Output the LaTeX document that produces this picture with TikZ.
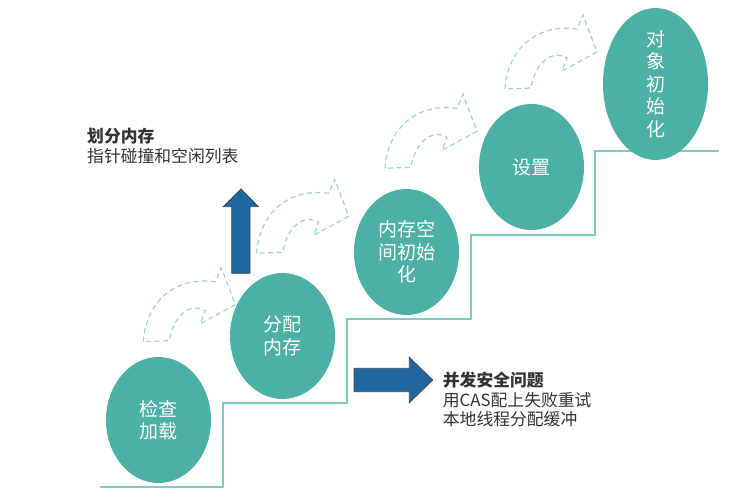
\documentclass[tikz,border=0pt]{standalone}
\usepackage{fontspec}
\setmainfont{Noto Sans CJK SC}
\usetikzlibrary{shapes.geometric}
\definecolor{stepteal}{RGB}{127,203,193}
\definecolor{ovalteal}{RGB}{77,176,164}
\definecolor{dashteal}{RGB}{158,213,206}
\definecolor{blockblue}{RGB}{31,103,160}
\definecolor{blockedge}{RGB}{62,72,84}
\definecolor{notegray}{RGB}{51,51,51}
\begin{document}
\begin{tikzpicture}[x=1pt,y=-1pt,
  stage/.style={ellipse, fill=ovalteal, draw=none, minimum width=105pt, minimum height=126pt, inner sep=0pt, align=center, text=white, font=\fontsize{19}{22.5}\selectfont},
  note/.style={anchor=west, inner sep=0pt, align=left, text=notegray, font=\fontsize{16.8}{19.7}\selectfont},
  hintarrow/.style={draw=dashteal, line width=1.2pt, dash pattern=on 5pt off 3.5pt, line join=miter},
  blockarrow/.style={fill=blockblue, draw=blockedge, line width=0.8pt}]
\useasboundingbox (0,0) rectangle (751,503);
% staircase
\draw[stepteal, line width=2.4pt] (100,487) -- (223,487) -- (223,403) -- (347,403) -- (347,319) -- (471,319) -- (471,235) -- (595,235) -- (595,151) -- (719,151);
% stages
\node[stage] (jiancha) at (158.5,420) {检查\\加载};
\node[stage] (fenpei) at (282.5,336) {分配\\内存};
\node[stage] (kongjian) at (406.5,252) {内存空\\间初始\\化};
\node[stage] (shezhi) at (531.5,167) {设置};
\node[stage] (duixiang) at (655.5,84) {对\\象\\初\\始\\化};
% dashed curved arrows
\foreach \tx/\ty in {143.3/341.7, 256.7/253.3, 385/168.3, 505/89}
  \draw[hintarrow, shift={(\tx,\ty)}] (0,0) .. controls (2,-35) and (27,-66) .. (72,-60) -- (78,-74) -- (92,-37) -- (57,-18) -- (62,-31) .. controls (47,-40) and (30,-26) .. (26,-1) -- cycle;
% block arrows
\draw[blockarrow] (231.7,273.3) -- (231.7,206.7) -- (223.3,206.7) -- (241,189) -- (258.3,206.7) -- (250,206.7) -- (250,273.3) -- cycle;
\draw[blockarrow] (354,368.3) -- (409.3,368.3) -- (409.3,357.3) -- (432.7,380) -- (409.3,402.7) -- (409.3,391.7) -- (354,391.7) -- cycle;
% notes
\node[note] (huafen) at (87,146) {\textbf{划分内存}\\指针碰撞和空闲列表};
\node[note] (bingfa) at (442.7,399.7) {\textbf{并发安全问题}\\用CAS配上失败重试\\本地线程分配缓冲};
\end{tikzpicture}
\end{document}
